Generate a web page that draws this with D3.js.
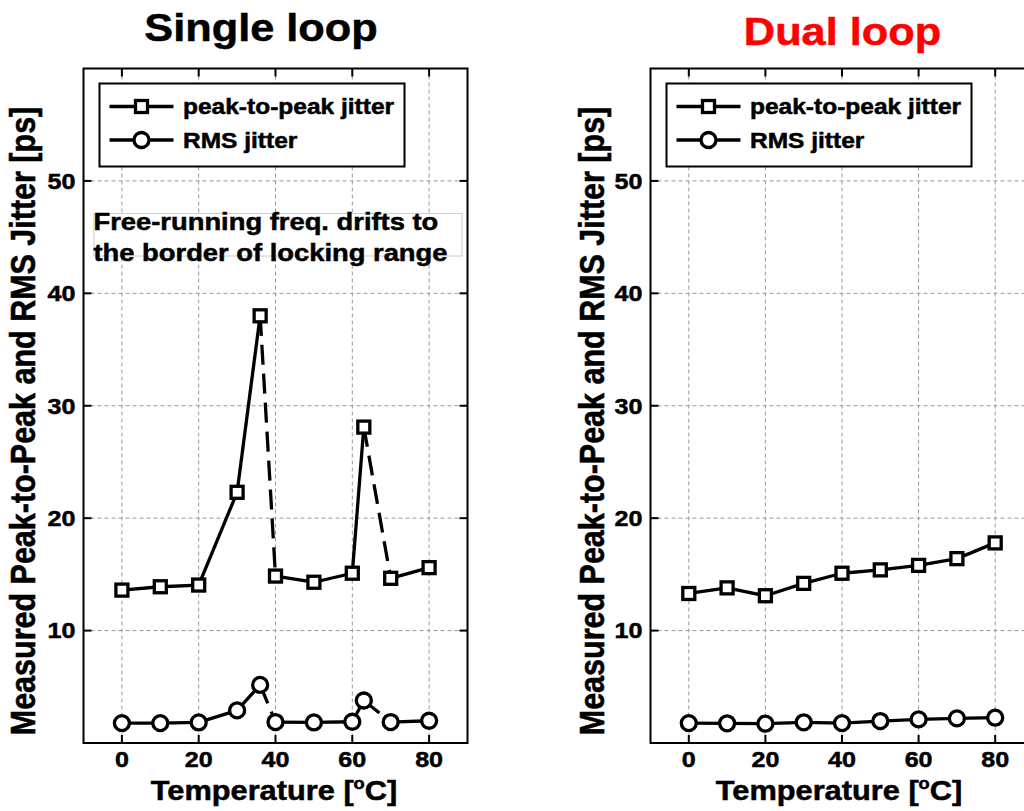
<!DOCTYPE html>
<html>
<head>
<meta charset="utf-8">
<script src="https://cdn.jsdelivr.net/npm/d3@7"></script>
<style>
  body { margin: 0; background: #fff; overflow: hidden; }
  text { font-family: "Liberation Sans", Arial, sans-serif; font-weight: bold; stroke: #000; stroke-width: 0.5px; }
</style>
</head>
<body>
<div id="chart"></div>
<script>
// temperatures and jitter values
const singleTemps = [0, 10, 20, 30, 36, 40, 50, 60, 63, 70, 80]
const singlePP = [13.6, 13.9, 14.05, 22.3, 38.0, 14.85, 14.3, 15.1, 28.1, 14.65, 15.6]
const singleRMS = [1.77, 1.77, 1.83, 2.9, 5.17, 1.86, 1.83, 1.89, 3.78, 1.86, 1.98]
const singleJumps = [4, 8]   // segment i -> i+1 drawn dashed

const dualTemps = [0, 10, 20, 30, 40, 50, 60, 70, 80]
const dualPP = [13.3, 13.8, 13.1, 14.2, 15.1, 15.4, 15.8, 16.4, 17.8]
const dualRMS = [1.77, 1.75, 1.72, 1.84, 1.77, 1.95, 2.1, 2.19, 2.25]
const dualJumps = []

const xTicks = [0, 20, 40, 60, 80]
const yTicks = [10, 20, 30, 40, 50]
const legendLabels = ['peak-to-peak jitter', 'RMS jitter']
const noteLines = ['Free-running freq. drifts to', 'the border of locking range']

const width = 1024, height = 811
const SX = 1.14   // text in the picture is stretched sideways
const plotTop = 68.5, plotBottom = 743
const sq = 12, rad = 7.5, lw = 3.3

const svg = d3.select('#chart').append('svg')
  .attr('width', width).attr('height', height)

function txt(g, x, y, s, size, anchor) {
  return g.append('text')
    .attr('transform', `translate(${x},${y}) scale(${SX},1)`)
    .attr('font-size', size)
    .attr('text-anchor', anchor || 'start')
    .text(s)
}

const panels = [
  {title: 'Single loop', color: '#000', x0: 83.5, x1: 467.5, titleX: 261, titleY: 40.5, ylabX: 35, xlabX: 274,
   temps: singleTemps, pp: singlePP, rms: singleRMS, jumps: singleJumps, note: true},
  {title: 'Dual loop', color: '#ff0000', x0: 650.5, x1: 1033.5, titleX: 842.5, titleY: 45, ylabX: 604, xlabX: 839,
   temps: dualTemps, pp: dualPP, rms: dualRMS, jumps: dualJumps, note: false}
]

panels.forEach(p => {
  const x = d3.scaleLinear().domain([-10, 90]).range([p.x0, p.x1])
  const y = d3.scaleLinear().domain([0, 60]).range([plotBottom, plotTop])
  const g = svg.append('g')

  // grid
  g.append('g').selectAll('line').data(xTicks).join('line')
    .attr('x1', d => x(d)).attr('x2', d => x(d))
    .attr('y1', plotTop).attr('y2', plotBottom)
    .attr('stroke', '#999').attr('stroke-dasharray', '4,3')
  g.append('g').selectAll('line').data(yTicks).join('line')
    .attr('x1', p.x0).attr('x2', p.x1)
    .attr('y1', d => y(d)).attr('y2', d => y(d))
    .attr('stroke', '#999').attr('stroke-dasharray', '4,3')

  // inward ticks on all four sides
  const tk = 8
  g.append('g').selectAll('line').data(xTicks.flatMap(d => [[d, plotBottom, plotBottom - tk], [d, plotTop, plotTop + tk]])).join('line')
    .attr('x1', d => x(d[0])).attr('x2', d => x(d[0]))
    .attr('y1', d => d[1]).attr('y2', d => d[2])
    .attr('stroke', '#000').attr('stroke-width', 2)
  g.append('g').selectAll('line').data(yTicks.flatMap(d => [[d, p.x0, p.x0 + tk], [d, p.x1, p.x1 - tk]])).join('line')
    .attr('y1', d => y(d[0])).attr('y2', d => y(d[0]))
    .attr('x1', d => d[1]).attr('x2', d => d[2])
    .attr('stroke', '#000').attr('stroke-width', 2)

  g.append('rect')
    .attr('x', p.x0).attr('y', plotTop)
    .attr('width', p.x1 - p.x0).attr('height', plotBottom - plotTop)
    .attr('fill', 'none').attr('stroke', '#000').attr('stroke-width', 2)

  // tick labels
  xTicks.forEach(d => txt(g, x(d), 767, d, 22, 'middle'))
  yTicks.forEach(d => txt(g, p.x0 - 8, y(d) + 7.8, d, 22, 'end'))

  // titles
  txt(g, p.titleX, p.titleY, p.title, 38, 'middle').attr('fill', p.color).style('stroke', p.color)
  const xl = txt(g, p.xlabX, 800, '', 27, 'middle')
  xl.append('tspan').text('Temperature [')
  xl.append('tspan').attr('font-size', 16).attr('dy', -11).text('o')
  xl.append('tspan').attr('dy', 11).text('C]')

  g.append('text')
    .attr('transform', `translate(${p.ylabX},421) rotate(-90) scale(1,${SX})`)
    .attr('text-anchor', 'middle').attr('font-size', 30.5)
    .text('Measured Peak-to-Peak and RMS Jitter [ps]')

  if (p.note) {
    g.append('rect')
      .attr('x', 94).attr('y', 213.5).attr('width', 368).attr('height', 42.5)
      .attr('fill', '#fff').attr('stroke', '#ccc').attr('stroke-width', 1)
    noteLines.forEach((s, i) => txt(g, 93.5, 229.5 + i * 31.5, s, 24))
  }

  // series
  const series = [p.pp, p.rms]
  series.forEach((vals, si) => {
    const pts = vals.map((v, i) => [x(p.temps[i]), y(v)])
    g.append('g').selectAll('line').data(d3.pairs(pts)).join('line')
      .attr('x1', d => d[0][0]).attr('y1', d => d[0][1])
      .attr('x2', d => d[1][0]).attr('y2', d => d[1][1])
      .attr('stroke', '#000').attr('stroke-width', lw)
      .attr('stroke-dasharray', (d, i) => p.jumps.includes(i) ? '20,9' : null)
    const m = g.append('g').selectAll('.m').data(pts).join(si === 0 ? 'rect' : 'circle')
      .attr('fill', '#fff').attr('stroke', '#000').attr('stroke-width', lw)
    if (si === 0) m.attr('x', d => d[0] - sq / 2).attr('y', d => d[1] - sq / 2).attr('width', sq).attr('height', sq)
    else m.attr('cx', d => d[0]).attr('cy', d => d[1]).attr('r', rad)
  })

  // legend
  const lx = p.x0 + 16, ly = 83.5
  g.append('rect')
    .attr('x', lx).attr('y', ly).attr('width', 305).attr('height', 83)
    .attr('fill', '#fff').attr('stroke', '#000').attr('stroke-width', 2)
  legendLabels.forEach((s, i) => {
    const cy = 106.5 + i * 33.5
    g.append('line')
      .attr('x1', lx + 10).attr('x2', lx + 74).attr('y1', cy).attr('y2', cy)
      .attr('stroke', '#000').attr('stroke-width', lw)
    if (i === 0) {
      g.append('rect').attr('x', lx + 42 - sq / 2).attr('y', cy - sq / 2).attr('width', sq).attr('height', sq)
        .attr('fill', '#fff').attr('stroke', '#000').attr('stroke-width', lw)
    } else {
      g.append('circle').attr('cx', lx + 42).attr('cy', cy).attr('r', rad)
        .attr('fill', '#fff').attr('stroke', '#000').attr('stroke-width', lw)
    }
    txt(g, lx + 83.5, cy + 7.5, s, 21.5)
  })
})
</script>
</body>
</html>
